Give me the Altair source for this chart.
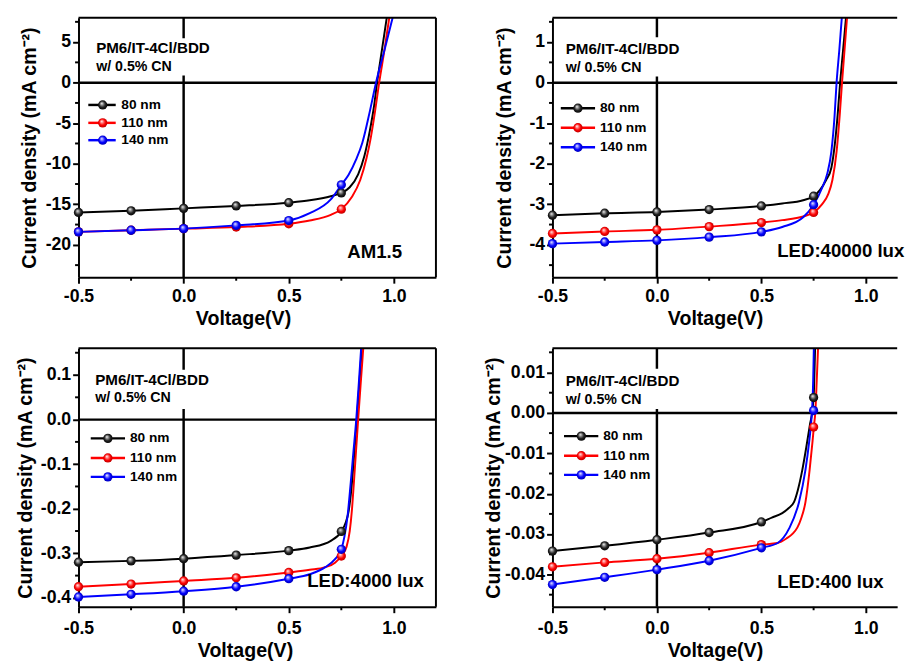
import altair as alt
import pandas as pd

FONT = "Liberation Sans"

# ---------------- data ----------------
series = ["80 nm", "110 nm", "140 nm"]
line_colors = ["#000000", "#ff0000", "#0000ff"]
mk_v = [-0.5, -0.25, 0.0, 0.25, 0.5, 0.75]

# (a) AM1.5
a_mk_80 = [-16.0, -15.8, -15.5, -15.2, -14.8, -13.6]
a_mk_110 = [-18.4, -18.2, -18.0, -17.8, -17.4, -15.6]
a_mk_140 = [-18.4, -18.2, -18.0, -17.6, -17.0, -12.6]
a_v_80 = [-0.5, -0.25, 0.0, 0.25, 0.5, 0.6, 0.7, 0.75, 0.79, 0.83, 0.86, 0.885, 0.905, 0.92, 0.943, 0.966, 0.98]
a_j_80 = [-16.0, -15.8, -15.5, -15.2, -14.8, -14.5, -14.0, -13.6, -12.9, -11.3, -9.0, -6.0, -3.0, 0.0, 4.0, 8.0, 10.5]
a_v_110 = [-0.5, -0.25, 0.0, 0.25, 0.5, 0.6, 0.7, 0.75, 0.8, 0.84, 0.87, 0.89, 0.91, 0.93, 0.955, 0.978, 0.99]
a_j_110 = [-18.4, -18.2, -18.0, -17.8, -17.4, -17.0, -16.3, -15.6, -14.1, -12.0, -9.3, -6.8, -3.6, 0.0, 4.0, 8.0, 10.0]
a_v_140 = [-0.5, -0.25, 0.0, 0.25, 0.5, 0.6, 0.7, 0.75, 0.784, 0.82, 0.85, 0.885, 0.915, 0.955, 0.994, 1.01]
a_j_140 = [-18.4, -18.2, -18.0, -17.6, -17.0, -16.1, -14.4, -12.6, -11.4, -9.5, -7.4, -3.6, 0.0, 4.0, 8.0, 9.6]

# (b) LED 40000 lux
b_mk_80 = [-3.27, -3.22, -3.19, -3.13, -3.04, -2.80]
b_mk_110 = [-3.72, -3.67, -3.63, -3.55, -3.45, -3.20]
b_mk_140 = [-3.97, -3.93, -3.89, -3.81, -3.68, -3.01]
b_v_80 = [-0.5, -0.25, 0.0, 0.25, 0.5, 0.6, 0.7, 0.75, 0.78, 0.81, 0.835, 0.852, 0.865, 0.877, 0.891, 0.905, 0.918]
b_j_80 = [-3.27, -3.22, -3.19, -3.13, -3.04, -2.98, -2.90, -2.80, -2.65, -2.40, -2.10, -1.50, -0.80, 0.0, 0.8, 1.6, 2.4]
b_v_110 = [-0.5, -0.25, 0.0, 0.25, 0.5, 0.6, 0.7, 0.75, 0.79, 0.82, 0.84, 0.86, 0.875, 0.886, 0.898, 0.91, 0.922]
b_j_110 = [-3.72, -3.67, -3.63, -3.55, -3.45, -3.39, -3.30, -3.20, -3.00, -2.75, -2.40, -1.70, -0.80, 0.0, 0.8, 1.6, 2.4]
b_v_140 = [-0.5, -0.25, 0.0, 0.25, 0.5, 0.6, 0.7, 0.75, 0.79, 0.815, 0.835, 0.85, 0.86, 0.873, 0.885, 0.898]
b_j_140 = [-3.97, -3.93, -3.89, -3.81, -3.68, -3.56, -3.32, -3.01, -2.60, -2.25, -1.70, -0.85, 0.0, 0.8, 1.6, 2.4]

# (c) LED 4000 lux
c_mk_80 = [-0.320, -0.317, -0.312, -0.304, -0.294, -0.251]
c_mk_110 = [-0.375, -0.369, -0.362, -0.355, -0.343, -0.306]
c_mk_140 = [-0.398, -0.392, -0.385, -0.375, -0.357, -0.291]
c_v_80 = [-0.5, -0.25, 0.0, 0.25, 0.5, 0.6, 0.7, 0.75, 0.77, 0.785, 0.797, 0.806, 0.815, 0.824, 0.835, 0.845, 0.852]
c_j_80 = [-0.320, -0.317, -0.312, -0.304, -0.294, -0.287, -0.272, -0.251, -0.232, -0.205, -0.160, -0.110, -0.055, 0.0, 0.075, 0.145, 0.19]
c_v_110 = [-0.5, -0.25, 0.0, 0.25, 0.5, 0.6, 0.674, 0.72, 0.75, 0.775, 0.79, 0.80, 0.81, 0.82, 0.83, 0.842, 0.854, 0.86]
c_j_110 = [-0.375, -0.369, -0.362, -0.355, -0.343, -0.337, -0.331, -0.321, -0.306, -0.285, -0.250, -0.205, -0.140, -0.070, 0.0, 0.08, 0.158, 0.2]
c_v_140 = [-0.5, -0.25, 0.0, 0.25, 0.5, 0.6, 0.674, 0.72, 0.75, 0.765, 0.78, 0.795, 0.808, 0.821, 0.833, 0.844, 0.85]
c_j_140 = [-0.398, -0.392, -0.385, -0.375, -0.357, -0.347, -0.331, -0.313, -0.291, -0.262, -0.215, -0.140, -0.070, 0.0, 0.08, 0.158, 0.2]

# (d) LED 400 lux
d_mk_80 = [-0.0342, -0.0329, -0.0314, -0.0296, -0.0270, 0.0038]
d_mk_110 = [-0.0381, -0.0370, -0.0361, -0.0346, -0.0326, -0.0035]
d_mk_140 = [-0.0425, -0.0407, -0.0388, -0.0366, -0.0334, 0.0006]
d_v_80 = [-0.5, -0.25, 0.0, 0.25, 0.5, 0.55, 0.6, 0.63, 0.656, 0.675, 0.696, 0.715, 0.732, 0.745, 0.752, 0.757, 0.761]
d_j_80 = [-0.0342, -0.0329, -0.0314, -0.0296, -0.0270, -0.0259, -0.0248, -0.0236, -0.0221, -0.0190, -0.0141, -0.0085, -0.0030, 0.0010, 0.0060, 0.0157, 0.022]
d_v_110 = [-0.5, -0.25, 0.0, 0.25, 0.5, 0.578, 0.62, 0.65, 0.672, 0.69, 0.711, 0.731, 0.745, 0.752, 0.758, 0.765, 0.771, 0.775]
d_j_110 = [-0.0381, -0.0370, -0.0361, -0.0346, -0.0326, -0.0322, -0.0311, -0.0299, -0.0284, -0.0262, -0.0221, -0.0141, -0.0070, -0.0030, 0.0, 0.0080, 0.0157, 0.021]
d_v_140 = [-0.5, -0.25, 0.0, 0.25, 0.5, 0.578, 0.633, 0.68, 0.711, 0.728, 0.738, 0.744, 0.748, 0.751, 0.754]
d_j_140 = [-0.0425, -0.0407, -0.0388, -0.0366, -0.0334, -0.0322, -0.0286, -0.0221, -0.0141, -0.0075, -0.0025, 0.0020, 0.0080, 0.0157, 0.022]

# tick values
x_major = [-0.5, 0.0, 0.5, 1.0]
x_minor = [-0.25, 0.25, 0.75]
a_y_major = [-20, -15, -10, -5, 0, 5]
a_y_minor = [-22.5, -17.5, -12.5, -7.5, -2.5, 2.5, 7.5]
b_y_major = [-4, -3, -2, -1, 0, 1]
b_y_minor = [-4.5, -3.5, -2.5, -1.5, -0.5, 0.5, 1.5]
c_y_major = [-0.4, -0.3, -0.2, -0.1, 0.0, 0.1]
c_y_minor = [-0.35, -0.25, -0.15, -0.05, 0.05, 0.15]
d_y_major = [-0.04, -0.03, -0.02, -0.01, 0.0, 0.01]
d_y_minor = [-0.045, -0.035, -0.025, -0.015, -0.005, 0.005, 0.015]

sample_line1 = "PM6/IT-4Cl/BDD"
sample_line2 = "w/ 0.5% CN"
conditions = ["AM1.5", "LED:40000 lux", "LED:4000 lux", "LED:400 lux"]
x_title = "Voltage(V)"
y_title = "Current density (mA cm\u207b\u00b2)"


# ---------------- styling helpers ----------------
def ball(light, main, dark):
    return {"gradient": "radial", "x1": 0.38, "y1": 0.32, "r1": 0.0,
            "x2": 0.5, "y2": 0.5, "r2": 0.55,
            "stops": [{"offset": 0.0, "color": "#ffffff"},
                      {"offset": 0.25, "color": light},
                      {"offset": 0.6, "color": main},
                      {"offset": 1.0, "color": dark}]}


balls = [ball("#9a9a9a", "#222222", "#000000"),
         ball("#ff8a8a", "#ff0000", "#b00000"),
         ball("#8a8aff", "#0000ff", "#0000a8")]


def make_axis(title, major, fmt, **kw):
    lbl = "(datum.value < 0 ? '-' : '') + format(abs(datum.value), '%s')" % fmt
    return alt.Axis(title=title, values=major, labelExpr=lbl, tickSize=6,
                    grid=False, domainColor="black", domainWidth=2,
                    tickColor="black", tickWidth=2,
                    labelFont=FONT, labelFontSize=18, labelFontWeight="bold", labelColor="black",
                    titleFont=FONT, titleFontSize=20, titleFontWeight="bold", titleColor="black",
                    labelOverlap=False, labelFlush=False, **kw)


def panel(cfg):
    w, h = cfg["w"], cfg["h"]
    xs = alt.Scale(domain=cfg["xdom"], nice=False, zero=False)
    ys = alt.Scale(domain=cfg["ydom"], nice=False, zero=False)
    xa = make_axis(x_title, x_major, ".1f", labelPadding=cfg["xlp"],
                   titleX=cfg["xtx"], titleY=cfg["xty"])
    ya = make_axis(y_title, cfg["ymaj"], cfg["yfmt"], labelPadding=2, titleX=cfg["ytx"])
    X = lambda: alt.X("V:Q", scale=xs, axis=xa)
    Y = lambda: alt.Y("J:Q", scale=ys, axis=ya)
    one = pd.DataFrame({"k": [0]})

    rows = []
    for name, vv, jj in zip(series, cfg["lv"], cfg["lj"]):
        rows += [{"V": v, "J": j, "s": name} for v, j in zip(vv, jj)]
    line_df = pd.DataFrame(rows)
    col = alt.Color("s:N", scale=alt.Scale(domain=series, range=line_colors), legend=None)

    layers = []
    # axis-crossing lines at V=0 and J=0
    layers.append(alt.Chart(pd.DataFrame({"V": [0.0]})).mark_rule(color="black", strokeWidth=2.5)
                  .encode(x=X()))
    layers.append(alt.Chart(pd.DataFrame({"J": [0.0]})).mark_rule(color="black", strokeWidth=2.5)
                  .encode(y=Y()))
    # minor ticks
    layers.append(alt.Chart(pd.DataFrame({"J": cfg["ymin"]})).mark_rule(color="black", strokeWidth=2)
                  .encode(y=Y(), x=alt.value(-3.5), x2=alt.value(0)))
    layers.append(alt.Chart(pd.DataFrame({"V": x_minor})).mark_rule(color="black", strokeWidth=2)
                  .encode(x=X(), y=alt.value(h), y2=alt.value(h + 3.5)))
    # white box behind sample label
    rx0, rx1, ry0, ry1 = cfg["box"]
    layers.append(alt.Chart(one).mark_rect(color="white")
                  .encode(x=alt.value(rx0), x2=alt.value(rx1), y=alt.value(ry0), y2=alt.value(ry1)))
    # curves
    layers.append(alt.Chart(line_df).mark_line(strokeWidth=2, clip=True, interpolate="monotone")
                  .encode(x=X(), y=Y(), color=col, detail="s:N"))
    # markers
    for name, jj, b in zip(series, cfg["mk"], balls):
        mdf = pd.DataFrame({"V": mk_v, "J": jj})
        layers.append(alt.Chart(mdf).mark_point(shape="circle", size=90, filled=True, fill=b,
                                                opacity=1, strokeWidth=0)
                      .encode(x=X(), y=Y()))
    # sample label
    ax, ay1, ay2 = cfg["ann"]
    layers.append(alt.Chart(pd.DataFrame({"t": [sample_line1]}))
                  .mark_text(align="left", baseline="middle", font=FONT, fontSize=15.5,
                             fontWeight="bold", color="black")
                  .encode(x=alt.value(ax), y=alt.value(ay1), text="t:N"))
    layers.append(alt.Chart(pd.DataFrame({"t": [sample_line2]}))
                  .mark_text(align="left", baseline="middle", font=FONT, fontSize=14.5,
                             fontWeight="bold", color="black")
                  .encode(x=alt.value(ax), y=alt.value(ay2), text="t:N"))
    # condition label
    ctext, cx, cy, calign = cfg["cond"]
    layers.append(alt.Chart(pd.DataFrame({"t": [ctext]}))
                  .mark_text(align=calign, baseline="middle", font=FONT, fontSize=19,
                             fontWeight="bold", color="black")
                  .encode(x=alt.value(cx), y=alt.value(cy), text="t:N"))
    # legend
    lx0, lx1, lxm, lxt, lys = cfg["leg"]
    for name, c, b, ly in zip(series, line_colors, balls, lys):
        ldf = pd.DataFrame({"t": [name]})
        layers.append(alt.Chart(ldf).mark_rule(color=c, strokeWidth=2.5)
                      .encode(x=alt.value(lx0), x2=alt.value(lx1), y=alt.value(ly)))
        layers.append(alt.Chart(ldf).mark_point(shape="circle", size=90, filled=True, fill=b,
                                                opacity=1, strokeWidth=0)
                      .encode(x=alt.value(lxm), y=alt.value(ly)))
        layers.append(alt.Chart(ldf).mark_text(align="left", baseline="middle", font=FONT,
                                               fontSize=14, fontWeight="bold", color="black")
                      .encode(x=alt.value(lxt), y=alt.value(ly), text="t:N"))
    # frame: top (and right for left-hand panels)
    layers.append(alt.Chart(one).mark_rule(color="black", strokeWidth=2)
                  .encode(x=alt.value(0), x2=alt.value(w), y=alt.value(0)))
    if cfg["right"]:
        layers.append(alt.Chart(one).mark_rule(color="black", strokeWidth=2)
                      .encode(x=alt.value(w), y=alt.value(0), y2=alt.value(h)))
    return alt.layer(*layers).properties(width=w, height=h)


p1 = panel(dict(w=365, h=265, xdom=[-0.5, 1.2], ydom=[-24, 8],
                lv=[a_v_80, a_v_110, a_v_140], lj=[a_j_80, a_j_110, a_j_140],
                mk=[a_mk_80, a_mk_110, a_mk_140], ymaj=a_y_major, ymin=a_y_minor, yfmt="d",
                xlp=5, xtx=168, xty=32.5, ytx=-40,
                box=(15, 138, 21, 59), ann=(18, 30.7, 50),
                cond=(conditions[0], 302.5, 239.7, "center"),
                leg=(10, 38, 24.7, 43.7, [89, 107.3, 125]), right=True))
p2 = panel(dict(w=352, h=265, xdom=[-0.5, 1.15], ydom=[-4.8, 1.6],
                lv=[b_v_80, b_v_110, b_v_140], lj=[b_j_80, b_j_110, b_j_140],
                mk=[b_mk_80, b_mk_110, b_mk_140], ymaj=b_y_major, ymin=b_y_minor, yfmt="d",
                xlp=5, xtx=166, xty=32.5, ytx=-38.5,
                box=(11, 136, 20, 60), ann=(13.5, 32.3, 51.3),
                cond=(conditions[1], 229.5, 238.3, "left"),
                leg=(8.5, 43.5, 26, 48.5, [92.3, 112.3, 132.3]), right=False))
p3 = panel(dict(w=365, h=264, xdom=[-0.5, 1.2], ydom=[-0.42, 0.16],
                lv=[c_v_80, c_v_110, c_v_140], lj=[c_j_80, c_j_110, c_j_140],
                mk=[c_mk_80, c_mk_110, c_mk_140], ymaj=c_y_major, ymin=c_y_minor, yfmt=".1f",
                xlp=7, xtx=170, xty=34.5, ytx=-44,
                box=(14, 137, 22, 62), ann=(17, 33, 51),
                cond=(conditions[2], 233.5, 237.7, "left"),
                leg=(12.5, 47.5, 30, 52.5, [92, 112, 131.3]), right=True))
p4 = panel(dict(w=352, h=264, xdom=[-0.5, 1.15], ydom=[-0.048, 0.016],
                lv=[d_v_80, d_v_110, d_v_140], lj=[d_j_80, d_j_110, d_j_140],
                mk=[d_mk_80, d_mk_110, d_mk_140], ymaj=d_y_major, ymin=d_y_minor, yfmt=".2f",
                xlp=7, xtx=166, xty=34.5, ytx=-49.8,
                box=(11, 136, 21, 62), ann=(13.5, 33.7, 53),
                cond=(conditions[3], 229.5, 238.7, "left"),
                leg=(11.8, 46.8, 29.5, 51.8, [89.7, 109.7, 129.3]), right=False))

chart = (alt.concat(p1, p2, p3, p4, columns=2, bounds="flush",
                    spacing={"row": 72.5, "column": 119})
         .properties(padding={"left": 7, "top": 1, "right": 0, "bottom": 0}, background="white")
         .configure_view(stroke="transparent"))

chart.save("out.html", embed_options={"renderer": "svg", "actions": False})
